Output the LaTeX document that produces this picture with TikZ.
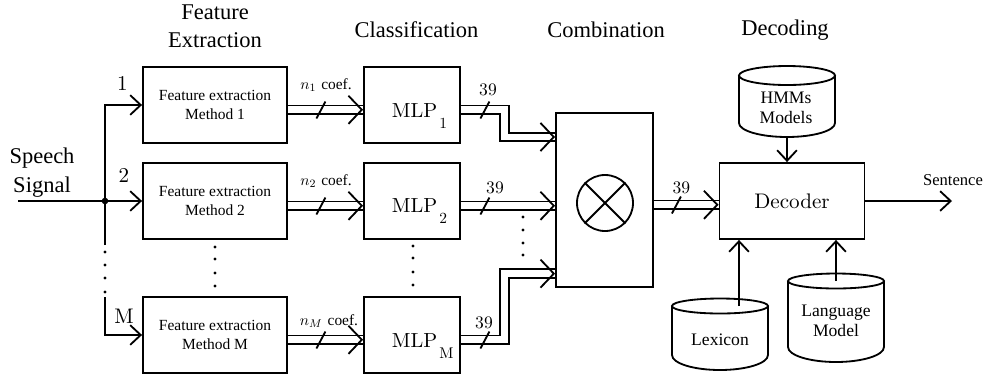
\documentclass[tikz,border=0pt]{standalone}
\usepackage{fontspec}
\newfontfamily\tms{Liberation Serif}
\newfontfamily\lmten{lmroman10-regular}[Extension=.otf]
\usetikzlibrary{arrows.meta,decorations.markings}

\newcommand{\mlpname}[1]{MLP\kern1.5pt\raisebox{-8.5pt}{\fontsize{11}{11}\selectfont #1}}

\begin{document}
\begin{tikzpicture}[x=0.025cm, y=-0.025cm, line width=1.3pt,
  box/.style={draw, rectangle, inner sep=0pt, minimum height=1.9cm},
  febox/.style={box, minimum width=3.6cm, align=center, font=\tms\fontsize{11}{13.5}\selectfont},
  mlpbox/.style={box, minimum width=2.4cm},
  lbl/.style={inner sep=0pt, anchor=base},
  title/.style={inner sep=0pt, font=\tms\fontsize{16}{20}\selectfont},
  dbtext/.style={inner sep=0pt, align=center, font=\tms\fontsize{12.5}{14.7}\selectfont},
  sarrow/.style={-{Straight Barb[length=7.5pt,width=14pt]}},
  bus/.style={double, double distance=4.9pt, postaction={decorate},
    decoration={markings, mark=at position 1 with {\pgfsetlinewidth{1.3pt}\pgfsetinnerlinewidth{0pt}\arrow{Straight Barb[length=9.5pt,width=20pt]}}}}]
\useasboundingbox (0,0) rectangle (987,378);

% Titles
\node[title, align=center, font=\tms\fontsize{16}{19.9}\selectfont] (tfeat) at (215,26.5) {Feature\\Extraction};
\node[title, anchor=base] (tcls) at (416.5,37) {Classification};
\node[title, anchor=base] (tcomb) at (606,37) {Combination};
\node[title, anchor=base] (tdeco) at (785,35.5) {Decoding};

% Input signal
\node[title, align=center, font=\tms\fontsize{16}{20.5}\selectfont] (speech) at (42,172.3) {Speech\\Signal};
\coordinate (spk) at (18,201);
\coordinate (jn) at (105,201);
\coordinate (vtop) at (105,105);
\coordinate (vend) at (105,245);
\coordinate (vbeg) at (105,297);

% Feature extraction
\node[febox] (fe1) at (215,105) {Feature extraction\\Method 1};
\node[febox] (fe2) at (215,201) {Feature extraction\\Method 2};
\node[febox] (feM) at (215,335) {Feature extraction\\Method M};

\draw (spk) -- (jn);
\draw[sarrow] (jn) -- (fe2);
\draw[sarrow] (vend) -- (vtop) -- (fe1);
\draw[sarrow] (vbeg) |- (feM);
\fill (jn) circle [radius=3.3];
\fill (105,252) circle [radius=1.7] (105,265) circle [radius=1.7] (105,278) circle [radius=1.7] (105,292) circle [radius=1.7];
\fill (215,247) circle [radius=1.7] (215,259) circle [radius=1.7] (215,273) circle [radius=1.7] (215,286) circle [radius=1.7];

\node[lbl, font=\lmten\fontsize{15}{15}\selectfont] (in1) at (122.5,90) {1};
\node[lbl, font=\lmten\fontsize{15}{15}\selectfont] (in2) at (124,182.7) {2};
\node[lbl, font=\lmten\fontsize{15}{15}\selectfont] (inM) at (124,323) {M};

% Classification
\node[mlpbox] (mlp1) at (412,105) {};
\node[mlpbox] (mlp2) at (412,201) {};
\node[mlpbox] (mlpM) at (412,335) {};
\node[lbl, anchor=base west, font=\lmten\fontsize{14.5}{14.5}\selectfont] (mlp1t) at (391,117) {\mlpname{1}};
\node[lbl, anchor=base west, font=\lmten\fontsize{14.5}{14.5}\selectfont] (mlp2t) at (391,212) {\mlpname{2}};
\node[lbl, anchor=base west, font=\lmten\fontsize{14.5}{14.5}\selectfont] (mlpMt) at (391,347) {\mlpname{M}};
\fill (413,246) circle [radius=1.7] (413,258) circle [radius=1.7] (413,272) circle [radius=1.7] (413,285) circle [radius=1.7];

\draw[bus] ([yshift=-0.12cm]fe1.east) -- ([yshift=-0.12cm]mlp1.west);
\draw[bus] ([yshift=-0.12cm]fe2.east) -- ([yshift=-0.12cm]mlp2.west);
\draw[bus] ([yshift=-0.12cm]feM.east) -- ([yshift=-0.12cm]mlpM.west);
\draw ([shift={(33,5)}]fe1.east) ++(-4.5,8.5) -- ++(9,-17);
\draw ([shift={(33,5)}]fe2.east) ++(-4.5,8.5) -- ++(9,-17);
\draw ([shift={(33,5)}]feM.east) ++(-4.5,8.5) -- ++(9,-17);
\node[lbl, font=\fontsize{10.95}{13}\selectfont] (c1) at (326,89.3) {$n_1$ {\tms coef.}};
\node[lbl, font=\fontsize{10.95}{13}\selectfont] (c2) at (326,185) {$n_2$ {\tms coef.}};
\node[lbl, font=\fontsize{10.95}{13}\selectfont] (cM) at (329,325) {$n_M$ {\tms coef.}};

% Combination
\node[box, minimum width=2.425cm, minimum height=4.35cm] (comb) at (604.5,200) {};
\node[draw, circle, inner sep=0pt, minimum size=1.4cm] (mix) at (605,203) {};
\draw (mix.north west) -- (mix.south east) (mix.north east) -- (mix.south west);
\fill (523,217) circle [radius=1.7] (523,230) circle [radius=1.7] (523,243) circle [radius=1.7] (523,255) circle [radius=1.7];

\draw[bus] ([yshift=-0.12cm]mlp1.east) -- ++(43.5,0) |- ([yshift=1.575cm]comb.west);
\draw[bus] ([yshift=-0.12cm]mlp2.east) -- ([yshift=-0.12cm]mlp2.east -| comb.west);
\draw[bus] ([yshift=-0.12cm]mlpM.east) -- ++(43.5,0) |- ([yshift=-1.84cm]comb.west);
\draw ([shift={(24,5)}]mlp1.east) ++(-4.5,8.5) -- ++(9,-17);
\draw ([shift={(24,5)}]mlp2.east) ++(-4.5,8.5) -- ++(9,-17);
\draw ([shift={(24,5)}]mlpM.east) ++(-4.5,8.5) -- ++(9,-17);
\node[lbl, font=\lmten\fontsize{12.5}{12.5}\selectfont] (w1) at (488,95) {39};
\node[lbl, font=\lmten\fontsize{12.5}{12.5}\selectfont] (w2) at (495,193.3) {39};
\node[lbl, font=\lmten\fontsize{12.5}{12.5}\selectfont] (wM) at (484,328.3) {39};

% Decoding
\node[box, minimum width=3.625cm, font=\lmten\fontsize{15}{15}\selectfont] (dec) at (792,201) {Decoder};
\draw[bus] ([yshift=-0.12cm]comb.east) -- ([yshift=-0.12cm]comb.east -| dec.west);
\draw ([shift={(22.5,5)}]comb.east) ++(-4.5,8.5) -- ++(9,-17);
\node[lbl, font=\lmten\fontsize{12.5}{12.5}\selectfont] (wd) at (681.3,193.3) {39};

\coordinate (out) at (952,201);
\draw[sarrow] (dec.east) -- (out);
\node[lbl, font=\tms\fontsize{11.8}{12}\selectfont] (sent) at (953,185) {Sentence};

% Databases
\draw (739,75.5) -- (739,123) arc [start angle=180, end angle=0, x radius=48, y radius=14] -- (835,75.5);
\draw (787,75.5) ellipse [x radius=48, y radius=9.5];
\node[dbtext] (hmmt) at (786,107.7) {HMMs\\Models};
\coordinate (hmmb) at (787,137);
\draw[sarrow] (hmmb) -- (hmmb |- dec.north);

\draw (672,306) -- (672,355) arc [start angle=180, end angle=0, x radius=48, y radius=15] -- (768,306);
\draw (720,306) ellipse [x radius=48, y radius=7.5];
\node[dbtext, anchor=base] (lext) at (720,345) {Lexicon};
\coordinate (lexa) at (739,306);
\draw[sarrow] (lexa) -- (lexa |- dec.south);

\draw (788,281) -- (788,347) arc [start angle=180, end angle=0, x radius=48, y radius=15] -- (884,281);
\draw (836,281) ellipse [x radius=48, y radius=7.5];
\node[dbtext] (lmt) at (836,320.8) {Language\\Model};
\coordinate (lma) at (836,281);
\draw[sarrow] (lma) -- (lma |- dec.south);
\end{tikzpicture}
\end{document}
